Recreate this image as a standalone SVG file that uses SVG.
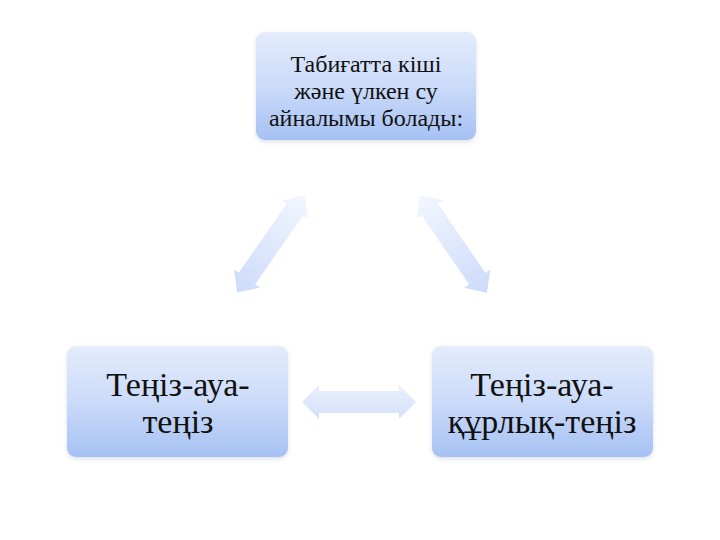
<svg xmlns="http://www.w3.org/2000/svg" width="720" height="540" viewBox="0 0 720 540">
  <defs>
    <linearGradient id="boxGrad" x1="0" y1="0" x2="0" y2="1">
      <stop offset="0" stop-color="#e4ecfc"/>
      <stop offset="0.5" stop-color="#cbdbf9"/>
      <stop offset="1" stop-color="#a6c1f3"/>
    </linearGradient>
    <linearGradient id="arrowGrad" x1="0" y1="0" x2="1" y2="0">
      <stop offset="0" stop-color="#f2f6fe"/>
      <stop offset="1" stop-color="#cddbfa"/>
    </linearGradient>
    <linearGradient id="hArrowGrad" x1="0" y1="0" x2="0" y2="1">
      <stop offset="0" stop-color="#eaf0fd"/>
      <stop offset="1" stop-color="#d3e0fa"/>
    </linearGradient>
    <filter id="shadow" x="-10%" y="-10%" width="120%" height="130%">
      <feDropShadow dx="0" dy="2" stdDeviation="2" flood-color="#9aa8c0" flood-opacity="0.35"/>
    </filter>
  </defs>
  <style>
    .box { fill: url(#boxGrad); filter: url(#shadow); }
    .t { font-family: "Liberation Serif", "DejaVu Serif", "Times New Roman", serif; fill: #111; text-anchor: middle; }
    .small { font-size: 24px; }
    .big { font-size: 34px; }
    .arr { fill: url(#arrowGrad); }
  </style>
  <rect width="720" height="540" fill="#ffffff"/>

  <g id="connectors">
    <polygon class="arr" transform="translate(271,244) rotate(124.8)" points="-59,0 -42,-16 -42,-10 42,-10 42,-16 59,0 42,16 42,10 -42,10 -42,16"/>
    <polygon class="arr" transform="translate(453.5,244) rotate(55.6)" points="-59,0 -42,-16 -42,-10 42,-10 42,-16 59,0 42,16 42,10 -42,10 -42,16"/>
    <polygon fill="url(#hArrowGrad)" transform="translate(359,402)" points="-57,0 -40,-17 -40,-11 40,-11 40,-17 57,0 40,17 40,11 -40,11 -40,17"/>
  </g>

  <g id="node-top">
    <rect class="box" x="256" y="32" width="220" height="108" rx="9"/>
    <text class="t small" x="366" y="72">Табиғатта кіші</text>
    <text class="t small" x="366" y="99">және үлкен су</text>
    <text class="t small" x="366" y="126">айналымы болады:</text>
  </g>

  <g id="node-left">
    <rect class="box" x="67" y="346" width="221" height="111" rx="9"/>
    <text class="t big" x="178" y="396">Теңіз-ауа-</text>
    <text class="t big" x="178" y="433">теңіз</text>
  </g>

  <g id="node-right">
    <rect class="box" x="432" y="346" width="221" height="111" rx="9"/>
    <text class="t big" x="542" y="396">Теңіз-ауа-</text>
    <text class="t big" x="542" y="433">құрлық-теңіз</text>
  </g>
</svg>
